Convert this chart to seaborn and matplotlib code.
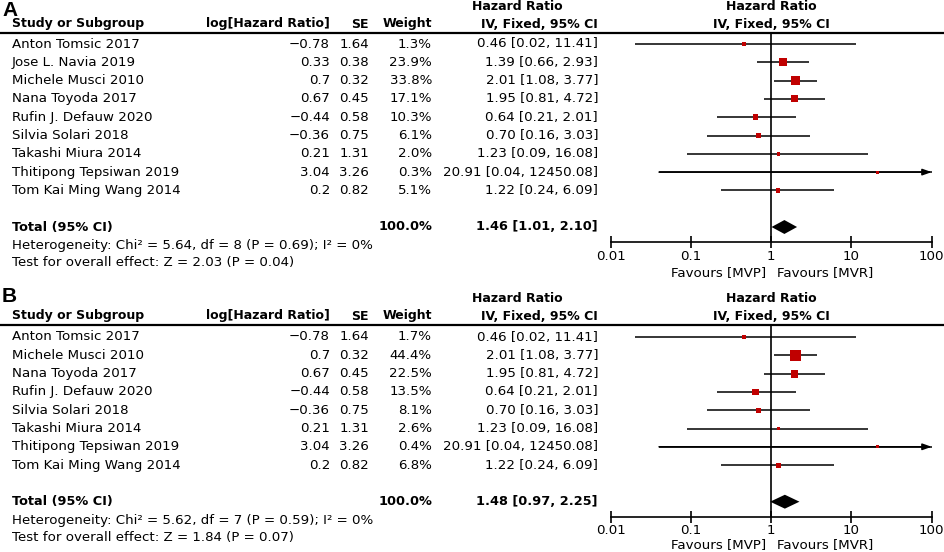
import matplotlib
matplotlib.use("Agg")
import matplotlib.pyplot as plt
import numpy as np
import pandas as pd
import seaborn as sns
from matplotlib.ticker import NullLocator

sns.set_theme(style="white")
plt.rcParams["font.family"] = ["DejaVu Sans"]
plt.rcParams["text.color"] = "black"
plt.rcParams["xtick.color"] = "black"

# ---- panel A data ----
studies_a = ["Anton Tomsic 2017", "Jose L. Navia 2019", "Michele Musci 2010",
             "Nana Toyoda 2017", "Rufin J. Defauw 2020", "Silvia Solari 2018",
             "Takashi Miura 2014", "Thitipong Tepsiwan 2019", "Tom Kai Ming Wang 2014"]
log_hr_a = [-0.78, 0.33, 0.7, 0.67, -0.44, -0.36, 0.21, 3.04, 0.2]
se_a = [1.64, 0.38, 0.32, 0.45, 0.58, 0.75, 1.31, 3.26, 0.82]
weight_a = [1.3, 23.9, 33.8, 17.1, 10.3, 6.1, 2.0, 0.3, 5.1]
hr_a = [0.46, 1.39, 2.01, 1.95, 0.64, 0.70, 1.23, 20.91, 1.22]
low_a = [0.02, 0.66, 1.08, 0.81, 0.21, 0.16, 0.09, 0.04, 0.24]
high_a = [11.41, 2.93, 3.77, 4.72, 2.01, 3.03, 16.08, 12450.08, 6.09]
total_a = [1.46, 1.01, 2.10]
total_weight_a = 100.0
het_a = "Heterogeneity: Chi² = 5.64, df = 8 (P = 0.69); I² = 0%"
effect_a = "Test for overall effect: Z = 2.03 (P = 0.04)"

# ---- panel B data ----
studies_b = ["Anton Tomsic 2017", "Michele Musci 2010", "Nana Toyoda 2017",
             "Rufin J. Defauw 2020", "Silvia Solari 2018", "Takashi Miura 2014",
             "Thitipong Tepsiwan 2019", "Tom Kai Ming Wang 2014"]
log_hr_b = [-0.78, 0.7, 0.67, -0.44, -0.36, 0.21, 3.04, 0.2]
se_b = [1.64, 0.32, 0.45, 0.58, 0.75, 1.31, 3.26, 0.82]
weight_b = [1.7, 44.4, 22.5, 13.5, 8.1, 2.6, 0.4, 6.8]
hr_b = [0.46, 2.01, 1.95, 0.64, 0.70, 1.23, 20.91, 1.22]
low_b = [0.02, 1.08, 0.81, 0.21, 0.16, 0.09, 0.04, 0.24]
high_b = [11.41, 3.77, 4.72, 2.01, 3.03, 16.08, 12450.08, 6.09]
total_b = [1.48, 0.97, 2.25]
total_weight_b = 100.0
het_b = "Heterogeneity: Chi² = 5.62, df = 7 (P = 0.59); I² = 0%"
effect_b = "Test for overall effect: Z = 1.84 (P = 0.07)"

ticks = [0.01, 0.1, 1, 10, 100]
tick_labels = ["0.01", "0.1", "1", "10", "100"]

W, H = 945, 552
RED = "#c00000"
FS = 9.6      # regular text
FS_B = 9.0    # bold headers
ROW_H = 18.3

fig = plt.figure(figsize=(W / 100, H / 100), dpi=100)
fig.patch.set_facecolor("white")
ax_t = fig.add_axes([0, 0, 1, 1])
ax_t.set_xlim(0, W)
ax_t.set_ylim(H, 0)
ax_t.axis("off")


def fmt(v):
    return f"{v:g}".replace("-", "\u2212")


def draw_panel(label, label_y, line_y, y0, studies, log_hr, se, weight, hr, low, high,
               total, total_w, het, effect, fav_off):
    n = len(studies)
    total_y = y0 + (n + 1) * ROW_H
    axis_y = total_y + 15

    # panel letter and headers
    ax_t.text(2, label_y, label, fontsize=15, fontweight="bold",
              family="Liberation Sans", va="center", ha="left")
    hkw = dict(fontsize=FS_B, fontweight="bold", va="center")
    ax_t.text(12, line_y - 9, "Study or Subgroup", ha="left", **hkw)
    ax_t.text(330, line_y - 9, "log[Hazard Ratio]", ha="right", **hkw)
    ax_t.text(369, line_y - 9, "SE", ha="right", **hkw)
    ax_t.text(432, line_y - 9, "Weight", ha="right", **hkw)
    ax_t.text(472, line_y - 26, "Hazard Ratio", ha="left", **hkw)
    ax_t.text(598, line_y - 9, "IV, Fixed, 95% CI", ha="right", **hkw)
    ax_t.text(771, line_y - 26, "Hazard Ratio", ha="center", **hkw)
    ax_t.text(771, line_y - 9, "IV, Fixed, 95% CI", ha="center", **hkw)
    ax_t.axhline(line_y, color="black", lw=1.6)

    # study rows
    for i in range(n):
        y = y0 + i * ROW_H
        kw = dict(fontsize=FS, va="center")
        ax_t.text(12, y, studies[i], ha="left", **kw)
        ax_t.text(330, y, fmt(log_hr[i]), ha="right", **kw)
        ax_t.text(369, y, fmt(se[i]), ha="right", **kw)
        ax_t.text(432, y, f"{weight[i]:.1f}%", ha="right", **kw)
        ax_t.text(598, y, f"{hr[i]:.2f} [{low[i]:.2f}, {high[i]:.2f}]", ha="right", **kw)

    # total and tests
    bkw = dict(fontsize=FS_B + 0.3, fontweight="bold", va="center")
    ax_t.text(12, total_y, "Total (95% CI)", ha="left", **bkw)
    ax_t.text(432, total_y, f"{total_w:.1f}%", ha="right", **bkw)
    ax_t.text(598, total_y, f"{total[0]:.2f} [{total[1]:.2f}, {total[2]:.2f}]", ha="right", **bkw)
    ax_t.text(12, total_y + 19, het, ha="left", fontsize=FS, va="center")
    ax_t.text(12, total_y + 35.5, effect, ha="left", fontsize=FS, va="center")
    ax_t.text(766, axis_y + fav_off, "Favours [MVP]", ha="right", fontsize=FS, va="center")
    ax_t.text(777, axis_y + fav_off, "Favours [MVR]", ha="left", fontsize=FS, va="center")

    # forest axes
    x_left, x_right = 610.7, 931.7
    ax = fig.add_axes([x_left / W, 1 - axis_y / H, (x_right - x_left) / W,
                       (axis_y - line_y) / H])
    ax.set_facecolor("none")
    ax.set_xscale("log")
    ax.set_xlim(0.01, 100)
    ax.set_ylim((axis_y - y0) / ROW_H, (line_y - y0) / ROW_H)

    rows = np.arange(n)
    high_arr = np.array(high)
    clipped = np.minimum(high_arr, 100)
    ax.hlines(rows, low, clipped, color="black", lw=1.1, zorder=2)
    for r in rows[high_arr > 100]:
        ax.annotate("", xy=(100, r), xytext=(low[r], r),
                    arrowprops=dict(arrowstyle="-|>,head_length=0.45,head_width=0.16",
                                    color="black", lw=1.1, shrinkA=0, shrinkB=0),
                    annotation_clip=False)

    df = pd.DataFrame({"hr": hr, "row": rows, "weight": weight})
    sns.scatterplot(data=df, x="hr", y="row", size="weight", sizes=(4, 128),
                    size_norm=(0, 100), marker="s", color=RED, linewidth=0,
                    legend=False, ax=ax, zorder=3)

    tr = n + 1
    h = 0.38
    ax.fill([total[1], total[0], total[2], total[0]], [tr, tr - h, tr, tr + h],
            color="black", lw=0, zorder=3)
    ax.axvline(1, color="black", lw=1.2, zorder=1)

    for s in ["top", "left", "right"]:
        ax.spines[s].set_visible(False)
    ax.spines["bottom"].set_color("black")
    ax.spines["bottom"].set_linewidth(1.2)
    ax.set_xticks(ticks)
    ax.set_xticklabels(tick_labels, fontsize=FS)
    ax.xaxis.set_minor_locator(NullLocator())
    ax.tick_params(axis="x", direction="inout", length=8, width=1.2, pad=1.5,
                   colors="black", bottom=True)
    ax.set_yticks([])
    ax.set_xlabel("")
    ax.set_ylabel("")
    ax.grid(False)


draw_panel("A", 10, 33, 44, studies_a, log_hr_a, se_a, weight_a, hr_a, low_a, high_a,
           total_a, total_weight_a, het_a, effect_a, 31)
draw_panel("B", 297, 325, 337, studies_b, log_hr_b, se_b, weight_b, hr_b, low_b, high_b,
           total_b, total_weight_b, het_b, effect_b, 28)

fig.savefig("out.png", dpi=100, facecolor="white")
plt.close(fig)
